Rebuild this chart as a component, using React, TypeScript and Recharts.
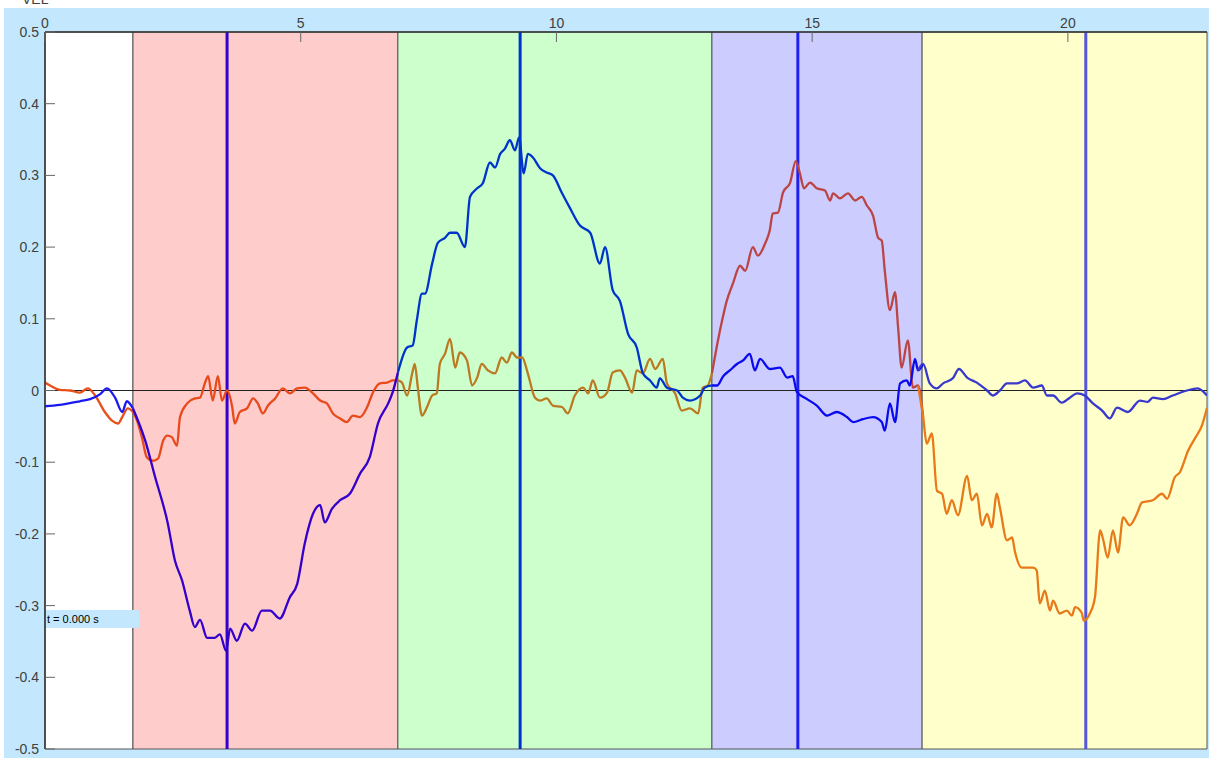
import { LineChart, Line, XAxis, YAxis, ReferenceArea, ReferenceLine } from "recharts";

// time (s) / velocity pairs for the two traces
const velXTrace: [number, number][] = [
  [0.0, -0.022], [0.29, -0.02], [0.68, -0.015], [0.88, -0.012], [1.08, -0.005], [1.21, 0.003],
  [1.37, -0.01], [1.51, -0.03], [1.6, -0.015], [1.72, -0.025], [1.96, -0.07], [2.15, -0.12],
  [2.4, -0.185], [2.54, -0.237], [2.68, -0.265], [2.83, -0.307], [2.93, -0.33], [3.03, -0.32],
  [3.17, -0.345], [3.32, -0.345], [3.42, -0.34], [3.54, -0.363], [3.62, -0.332], [3.75, -0.349],
  [3.91, -0.325], [4.05, -0.335], [4.24, -0.307], [4.4, -0.307], [4.59, -0.318], [4.79, -0.288],
  [4.93, -0.27], [5.08, -0.213], [5.24, -0.172], [5.38, -0.16], [5.47, -0.184], [5.61, -0.165],
  [5.77, -0.153], [5.96, -0.144], [6.16, -0.116], [6.35, -0.093], [6.51, -0.046], [6.71, -0.018],
  [6.8, -0.002], [6.9, 0.025], [7.08, 0.06], [7.19, 0.063], [7.27, 0.098], [7.37, 0.135],
  [7.43, 0.135], [7.57, 0.177], [7.68, 0.206], [7.82, 0.213], [7.92, 0.22], [8.05, 0.22],
  [8.21, 0.2], [8.31, 0.27], [8.45, 0.282], [8.56, 0.289], [8.7, 0.318], [8.8, 0.311],
  [8.9, 0.33], [8.99, 0.337], [9.09, 0.349], [9.19, 0.335], [9.27, 0.353], [9.36, 0.303],
  [9.44, 0.33], [9.54, 0.325], [9.68, 0.31], [9.81, 0.304], [9.93, 0.3], [10.11, 0.275],
  [10.26, 0.255], [10.46, 0.23], [10.66, 0.22], [10.85, 0.177], [10.95, 0.2], [11.1, 0.14],
  [11.24, 0.125], [11.4, 0.079], [11.57, 0.06], [11.69, 0.024], [11.83, 0.014], [11.96, 0.004],
  [12.02, 0.017], [12.16, 0.004], [12.36, 0.0], [12.47, -0.01], [12.61, -0.014], [12.81, -0.007],
  [12.9, 0.004], [13.04, 0.007], [13.14, 0.007], [13.26, 0.02], [13.39, 0.028], [13.53, 0.037],
  [13.65, 0.042], [13.78, 0.051], [13.88, 0.028], [13.98, 0.044], [14.17, 0.03], [14.37, 0.032],
  [14.51, 0.018], [14.62, 0.02], [14.7, -0.002], [14.9, -0.012], [15.09, -0.021], [15.29, -0.035],
  [15.48, -0.03], [15.68, -0.037], [15.8, -0.044], [15.99, -0.04], [16.19, -0.037], [16.36, -0.044],
  [16.42, -0.056], [16.52, -0.018], [16.62, -0.044], [16.72, 0.01], [16.85, 0.014], [16.91, 0.007],
  [17.01, 0.044], [17.07, 0.028], [17.17, 0.037], [17.3, 0.01], [17.44, 0.003], [17.56, 0.01],
  [17.75, 0.017], [17.87, 0.03], [18.03, 0.018], [18.22, 0.011], [18.42, 0.0], [18.53, -0.007],
  [18.67, 0.0], [18.81, 0.01], [19.0, 0.01], [19.16, 0.014], [19.32, 0.004], [19.49, 0.007],
  [19.59, -0.007], [19.71, -0.007], [19.88, -0.017], [20.04, -0.01], [20.18, -0.004], [20.33, -0.007],
  [20.49, -0.018], [20.67, -0.028], [20.82, -0.039], [20.96, -0.024], [21.17, -0.03], [21.41, -0.014],
  [21.56, -0.016], [21.66, -0.01], [21.86, -0.012], [22.05, -0.007], [22.33, 0.0], [22.54, 0.003],
  [22.72, -0.007],
];

const velYTrace: [number, number][] = [
  [0.0, 0.011], [0.1, 0.007], [0.29, 0.001], [0.49, 0.0], [0.68, -0.003], [0.84, 0.003],
  [0.98, -0.007], [1.17, -0.03], [1.31, -0.042], [1.43, -0.046], [1.51, -0.037], [1.62, -0.025],
  [1.72, -0.03], [1.8, -0.042], [1.9, -0.067], [1.99, -0.093], [2.11, -0.098], [2.21, -0.095],
  [2.31, -0.07], [2.39, -0.063], [2.48, -0.065], [2.58, -0.077], [2.64, -0.037], [2.78, -0.018],
  [2.93, -0.011], [3.03, -0.01], [3.13, 0.011], [3.19, 0.02], [3.28, -0.014], [3.38, 0.02],
  [3.46, -0.014], [3.56, 0.0], [3.66, -0.023], [3.71, -0.046], [3.81, -0.03], [3.95, -0.025],
  [4.07, -0.011], [4.16, -0.018], [4.26, -0.032], [4.36, -0.021], [4.5, -0.011], [4.65, 0.003],
  [4.79, -0.004], [4.93, 0.003], [5.08, 0.004], [5.24, -0.004], [5.38, -0.014], [5.51, -0.018],
  [5.63, -0.032], [5.77, -0.039], [5.9, -0.044], [6.02, -0.035], [6.16, -0.037], [6.3, -0.023],
  [6.41, -0.003], [6.55, 0.01], [6.69, 0.011], [6.8, 0.014], [6.9, 0.014], [6.98, 0.011],
  [7.08, -0.007], [7.18, 0.024], [7.23, 0.037], [7.29, 0.004], [7.37, -0.035], [7.47, -0.023],
  [7.57, -0.007], [7.66, -0.004], [7.72, 0.037], [7.82, 0.051], [7.92, 0.072], [8.02, 0.032],
  [8.11, 0.053], [8.25, 0.042], [8.35, 0.007], [8.45, 0.018], [8.54, 0.037], [8.66, 0.028],
  [8.8, 0.024], [8.93, 0.046], [9.03, 0.039], [9.13, 0.053], [9.23, 0.046], [9.33, 0.046],
  [9.44, 0.024], [9.58, -0.01], [9.68, -0.014], [9.81, -0.011], [9.93, -0.021], [10.11, -0.023],
  [10.22, -0.032], [10.36, -0.007], [10.52, 0.004], [10.62, -0.004], [10.71, 0.014], [10.85, -0.01],
  [10.99, -0.003], [11.1, 0.025], [11.24, 0.028], [11.34, 0.018], [11.48, -0.003], [11.57, 0.028],
  [11.69, 0.024], [11.83, 0.044], [11.93, 0.03], [12.08, 0.044], [12.16, 0.01], [12.32, -0.004],
  [12.45, -0.028], [12.61, -0.025], [12.77, -0.032], [12.86, 0.004], [12.96, 0.007], [13.04, 0.024],
  [13.14, 0.063], [13.24, 0.098], [13.33, 0.125], [13.45, 0.149], [13.59, 0.174], [13.69, 0.167],
  [13.84, 0.2], [13.94, 0.188], [14.08, 0.205], [14.17, 0.223], [14.23, 0.247], [14.33, 0.248],
  [14.43, 0.276], [14.57, 0.29], [14.68, 0.32], [14.76, 0.303], [14.84, 0.282], [14.96, 0.29],
  [15.09, 0.282], [15.25, 0.279], [15.35, 0.265], [15.41, 0.275], [15.54, 0.268], [15.7, 0.275],
  [15.84, 0.265], [15.97, 0.27], [16.07, 0.258], [16.19, 0.244], [16.29, 0.213], [16.36, 0.209],
  [16.42, 0.167], [16.52, 0.112], [16.62, 0.137], [16.68, 0.088], [16.75, 0.032], [16.87, 0.07],
  [16.97, 0.004], [17.07, 0.007], [17.17, -0.037], [17.24, -0.074], [17.34, -0.06], [17.44, -0.14],
  [17.54, -0.144], [17.63, -0.172], [17.73, -0.153], [17.85, -0.174], [18.03, -0.119], [18.12, -0.153],
  [18.22, -0.144], [18.32, -0.188], [18.42, -0.172], [18.51, -0.191], [18.61, -0.144], [18.67, -0.163],
  [18.81, -0.209], [18.91, -0.205], [18.96, -0.223], [19.1, -0.247], [19.22, -0.247], [19.32, -0.247],
  [19.39, -0.251], [19.45, -0.297], [19.55, -0.279], [19.65, -0.307], [19.71, -0.293], [19.84, -0.311],
  [19.98, -0.307], [20.08, -0.314], [20.14, -0.302], [20.27, -0.31], [20.31, -0.321], [20.43, -0.311],
  [20.53, -0.288], [20.63, -0.195], [20.68, -0.205], [20.78, -0.233], [20.88, -0.195], [20.98, -0.226],
  [21.08, -0.177], [21.21, -0.188], [21.35, -0.172], [21.45, -0.156], [21.66, -0.153], [21.84, -0.144],
  [21.94, -0.151], [22.09, -0.121], [22.19, -0.114], [22.35, -0.084], [22.49, -0.066], [22.62, -0.049],
  [22.72, -0.024],
];

// phases of the movement
const phaseStart = [0, 1.72, 6.9, 13.04, 17.15];
const phaseEnd = [1.72, 6.9, 13.04, 17.15, 22.72];
const phaseFill = ["#ffffff", "#ffcccc", "#ccffcc", "#ccccff", "#ffffcc"];
const velXColor = ["#1a1af0", "#3300cc", "#0033cc", "#0a0aee", "#3838cc"];
const velYColor = ["#e8501a", "#e84a1c", "#bb7a22", "#bb4444", "#e87a1a"];

// peak markers
const markerT = [3.56, 9.29, 14.72, 20.35];
const markerColor = ["#3300cc", "#0033cc", "#2020ee", "#5555dd"];

const xTicks = [0, 5, 10, 15, 20];
const yTicks = [-0.5, -0.4, -0.3, -0.2, -0.1, 0, 0.1, 0.2, 0.3, 0.4, 0.5];

const W = 1209;
const H = 758;
const FONT = "'Liberation Sans', Arial, sans-serif";

function segment(trace: [number, number][], from: number, to: number) {
  let i0 = 0;
  while (i0 + 1 < trace.length && trace[i0 + 1][0] <= from) i0++;
  let i1 = trace.length - 1;
  while (i1 - 1 >= 0 && trace[i1 - 1][0] >= to) i1--;
  return trace.slice(i0, i1 + 1).map(([t, v]) => ({ t, v }));
}

const TopTick = (props: any) => {
  const { x, y, payload } = props;
  return (
    <g>
      <line x1={x} x2={x} y1={y} y2={y + 10} stroke="#666" />
      <text x={x} y={y - 4} textAnchor="middle" fontSize={14} fontFamily={FONT} fill="#404040">
        {payload.value}
      </text>
    </g>
  );
};

const BottomTick = (props: any) => {
  const { x, y } = props;
  return <line x1={x} x2={x} y1={y} y2={y - 10} stroke="#666" />;
};

const LeftTick = (props: any) => {
  const { x, y, payload } = props;
  const v = payload.value as number;
  return (
    <g>
      <line x1={x} x2={x + 10} y1={y} y2={y} stroke="#666" />
      <text x={x - 6} y={y + 5} textAnchor="end" fontSize={14} fontFamily={FONT} fill="#404040">
        {v === 0 ? "0" : String(Math.round(v * 10) / 10)}
      </text>
    </g>
  );
};

const RightTick = (props: any) => {
  const { x, y } = props;
  return <line x1={x} x2={x - 10} y1={y} y2={y} stroke="#666" />;
};

export default function App() {
  return (
    <div style={{ position: "absolute", left: 0, top: 0, width: W, height: H, background: "#fff", overflow: "hidden" }}>
      <div style={{ position: "absolute", left: 4, top: 8, right: 0, bottom: 0, background: "#c3e8fe" }} />
      <div
        style={{
          position: "absolute",
          left: 22,
          top: -9,
          fontFamily: FONT,
          fontSize: 14,
          lineHeight: "16px",
          color: "#404040",
        }}
      >
        VEL
      </div>
      <div style={{ position: "absolute", left: 0, top: 0 }}>
        <LineChart width={W} height={H} margin={{ top: 2, right: 2, bottom: 9, left: 5 }}>
          <XAxis
            xAxisId="top"
            type="number"
            dataKey="t"
            orientation="top"
            domain={[0, 22.72]}
            ticks={xTicks}
            height={30}
            tickSize={0}
            tickMargin={0}
            tick={<TopTick />}
            axisLine={{ stroke: "#333", strokeWidth: 1.5 }}
            allowDataOverflow
          />
          <XAxis
            xAxisId="bottom"
            type="number"
            dataKey="t"
            orientation="bottom"
            domain={[0, 22.72]}
            ticks={xTicks}
            height={0}
            tickSize={0}
            tickMargin={0}
            tick={<BottomTick />}
            axisLine={{ stroke: "#333", strokeWidth: 2 }}
            allowDataOverflow
          />
          <YAxis
            yAxisId="left"
            type="number"
            domain={[-0.5, 0.5]}
            ticks={yTicks}
            width={40}
            tickSize={0}
            tickMargin={0}
            tick={<LeftTick />}
            axisLine={{ stroke: "#333", strokeWidth: 1.5 }}
            allowDataOverflow
          />
          <YAxis
            yAxisId="right"
            orientation="right"
            type="number"
            domain={[-0.5, 0.5]}
            ticks={yTicks}
            width={0}
            tickSize={0}
            tickMargin={0}
            tick={<RightTick />}
            axisLine={{ stroke: "#333", strokeWidth: 2 }}
            allowDataOverflow
          />
          {phaseStart.map((s, i) => (
            <ReferenceArea
              key={`phase-${i}`}
              xAxisId="top"
              yAxisId="left"
              x1={s}
              x2={phaseEnd[i]}
              y1={-0.5}
              y2={0.5}
              fill={phaseFill[i]}
              fillOpacity={1}
              stroke="#555"
              strokeWidth={1}
            />
          ))}
          <ReferenceLine xAxisId="top" yAxisId="left" y={0} stroke="#222" strokeWidth={1} />
          {markerT.map((t, i) => (
            <ReferenceLine
              key={`marker-${i}`}
              xAxisId="top"
              yAxisId="left"
              x={t}
              stroke={markerColor[i]}
              strokeWidth={3}
            />
          ))}
          {phaseStart.map((s, i) => (
            <Line
              key={`vy-${i}`}
              xAxisId="top"
              yAxisId="left"
              data={segment(velYTrace, s, phaseEnd[i])}
              dataKey="v"
              type="monotone"
              stroke={velYColor[i]}
              strokeWidth={2.3}
              dot={false}
              activeDot={false}
              isAnimationActive={false}
            />
          ))}
          {phaseStart.map((s, i) => (
            <Line
              key={`vx-${i}`}
              xAxisId="top"
              yAxisId="left"
              data={segment(velXTrace, s, phaseEnd[i])}
              dataKey="v"
              type="monotone"
              stroke={velXColor[i]}
              strokeWidth={2.3}
              dot={false}
              activeDot={false}
              isAnimationActive={false}
            />
          ))}
        </LineChart>
      </div>
      <div
        style={{
          position: "absolute",
          left: 46,
          top: 610,
          width: 92,
          height: 18,
          background: "#c3e8fe",
          fontFamily: FONT,
          fontSize: 11,
          lineHeight: "18px",
          color: "#000",
          paddingLeft: 1,
        }}
      >
        t = 0.000 s
      </div>
    </div>
  );
}
